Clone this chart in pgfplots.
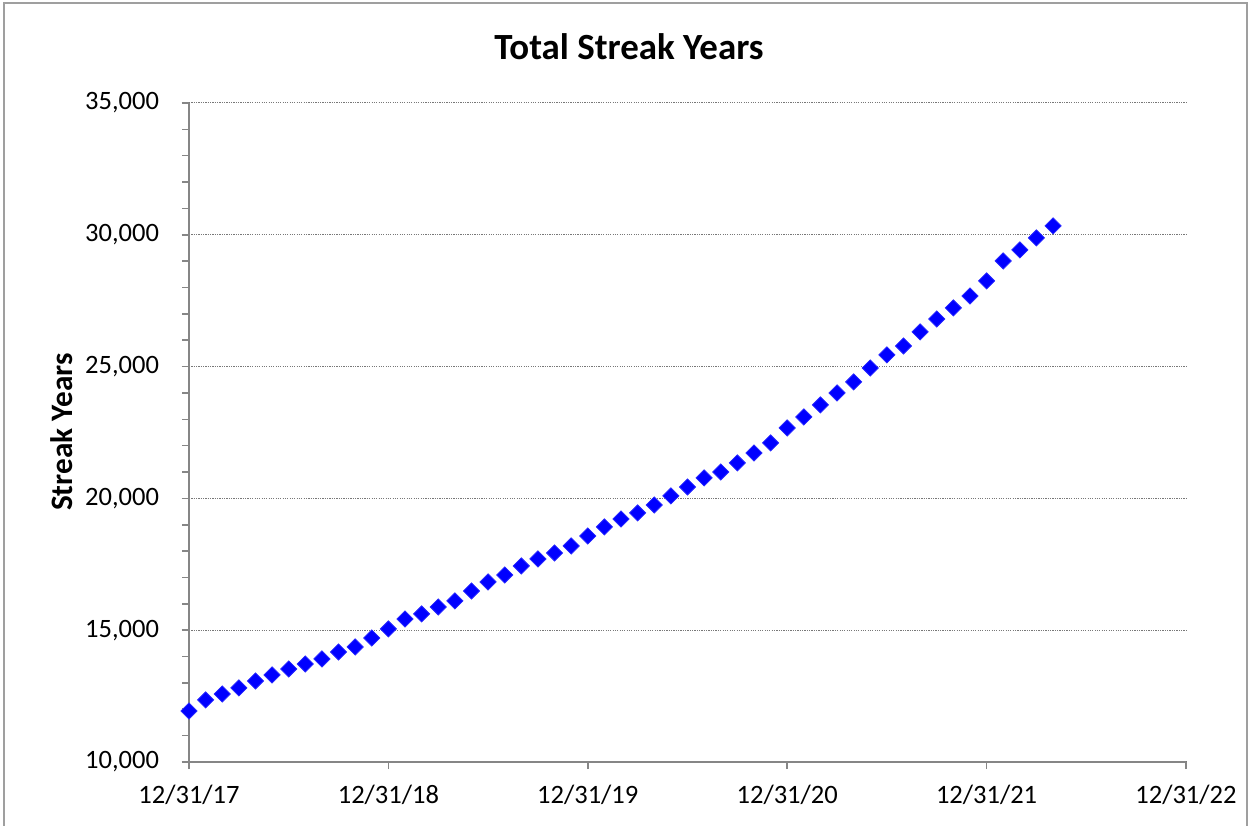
\documentclass[border=0pt]{standalone}
\usepackage{pgfplots}
\pgfplotsset{compat=1.18}
\usepackage{fontspec}
\setmainfont{Carlito}
\definecolor{axgray}{RGB}{134,134,134}
\definecolor{gridgray}{RGB}{120,120,120}
\definecolor{mkblue}{RGB}{0,0,255}
\begin{document}
\begin{tikzpicture}
\useasboundingbox (0pt,0pt) rectangle (482.31pt,317.69pt);
\draw[color=gray!75, line width=0.5pt] (1.5pt,0pt) -- (1.5pt,316.5pt) -- (479.6pt,316.5pt) -- (479.6pt,0pt);
\begin{axis}[
  at={(72.69pt,24.62pt)}, anchor=south west,
  scale only axis, width=383.46pt, height=253.46pt,
  xmin=0, xmax=60, ymin=10000, ymax=35000,
  axis x line=bottom, axis y line=left,
  axis line style={draw=axgray, line width=0.6pt, -},
  xtick={0,12,24,36,48,60},
  xticklabels={12/31/17,12/31/18,12/31/19,12/31/20,12/31/21,12/31/22},
  ytick={10000,15000,20000,25000,30000,35000},
  minor y tick num=4,
  tick align=outside,
  major tick length=2.8pt, minor tick length=2.6pt,
  tick style={draw=axgray, line width=0.6pt},
  ymajorgrids, grid style={gridgray, line width=0.4pt, dash pattern=on 0.45pt off 0.45pt},
  scaled y ticks=false,
  /pgf/number format/.cd, fixed, 1000 sep={,}, assume math mode=true,
  /pgfplots/.cd,
  tick label style={font=\fontsize{10.2}{12}\selectfont, black},
  yticklabel style={xshift=-5.2pt},
  xticklabel style={yshift=-2.5pt},
  clip=false,
]
\addplot[only marks, mark=square*, mark size=2.2pt,
  mark options={rotate=45, fill=mkblue, draw=mkblue!85!white, line width=0.3pt}]
coordinates {
(0,11935) (1,12352) (2,12580) (3,12808) (4,13073) (5,13301) (6,13528) (7,13718)
(8,13908) (9,14173) (10,14363) (11,14705) (12,15046) (13,15425) (14,15615) (15,15881)
(16,16108) (17,16488) (18,16829) (19,17095) (20,17436) (21,17702) (22,17929) (23,18195)
(24,18574) (25,18916) (26,19219) (27,19447) (28,19751) (29,20092) (30,20434) (31,20775)
(32,21003) (33,21344) (34,21723) (35,22103) (36,22672) (37,23089) (38,23545) (39,24000)
(40,24417) (41,24948) (42,25442) (43,25783) (44,26314) (45,26807) (46,27225) (47,27680)
(48,28249) (49,29008) (50,29425) (51,29881) (52,30336)
};
\end{axis}
\node[anchor=base, font=\fontsize{14.2}{16}\selectfont\bfseries] at (241.9pt,294.7pt) {Total Streak Years};
\node[anchor=base, rotate=90, font=\fontsize{12}{14}\selectfont\bfseries] at (27.7pt,151.5pt) {Streak Years};
\end{tikzpicture}
\end{document}
